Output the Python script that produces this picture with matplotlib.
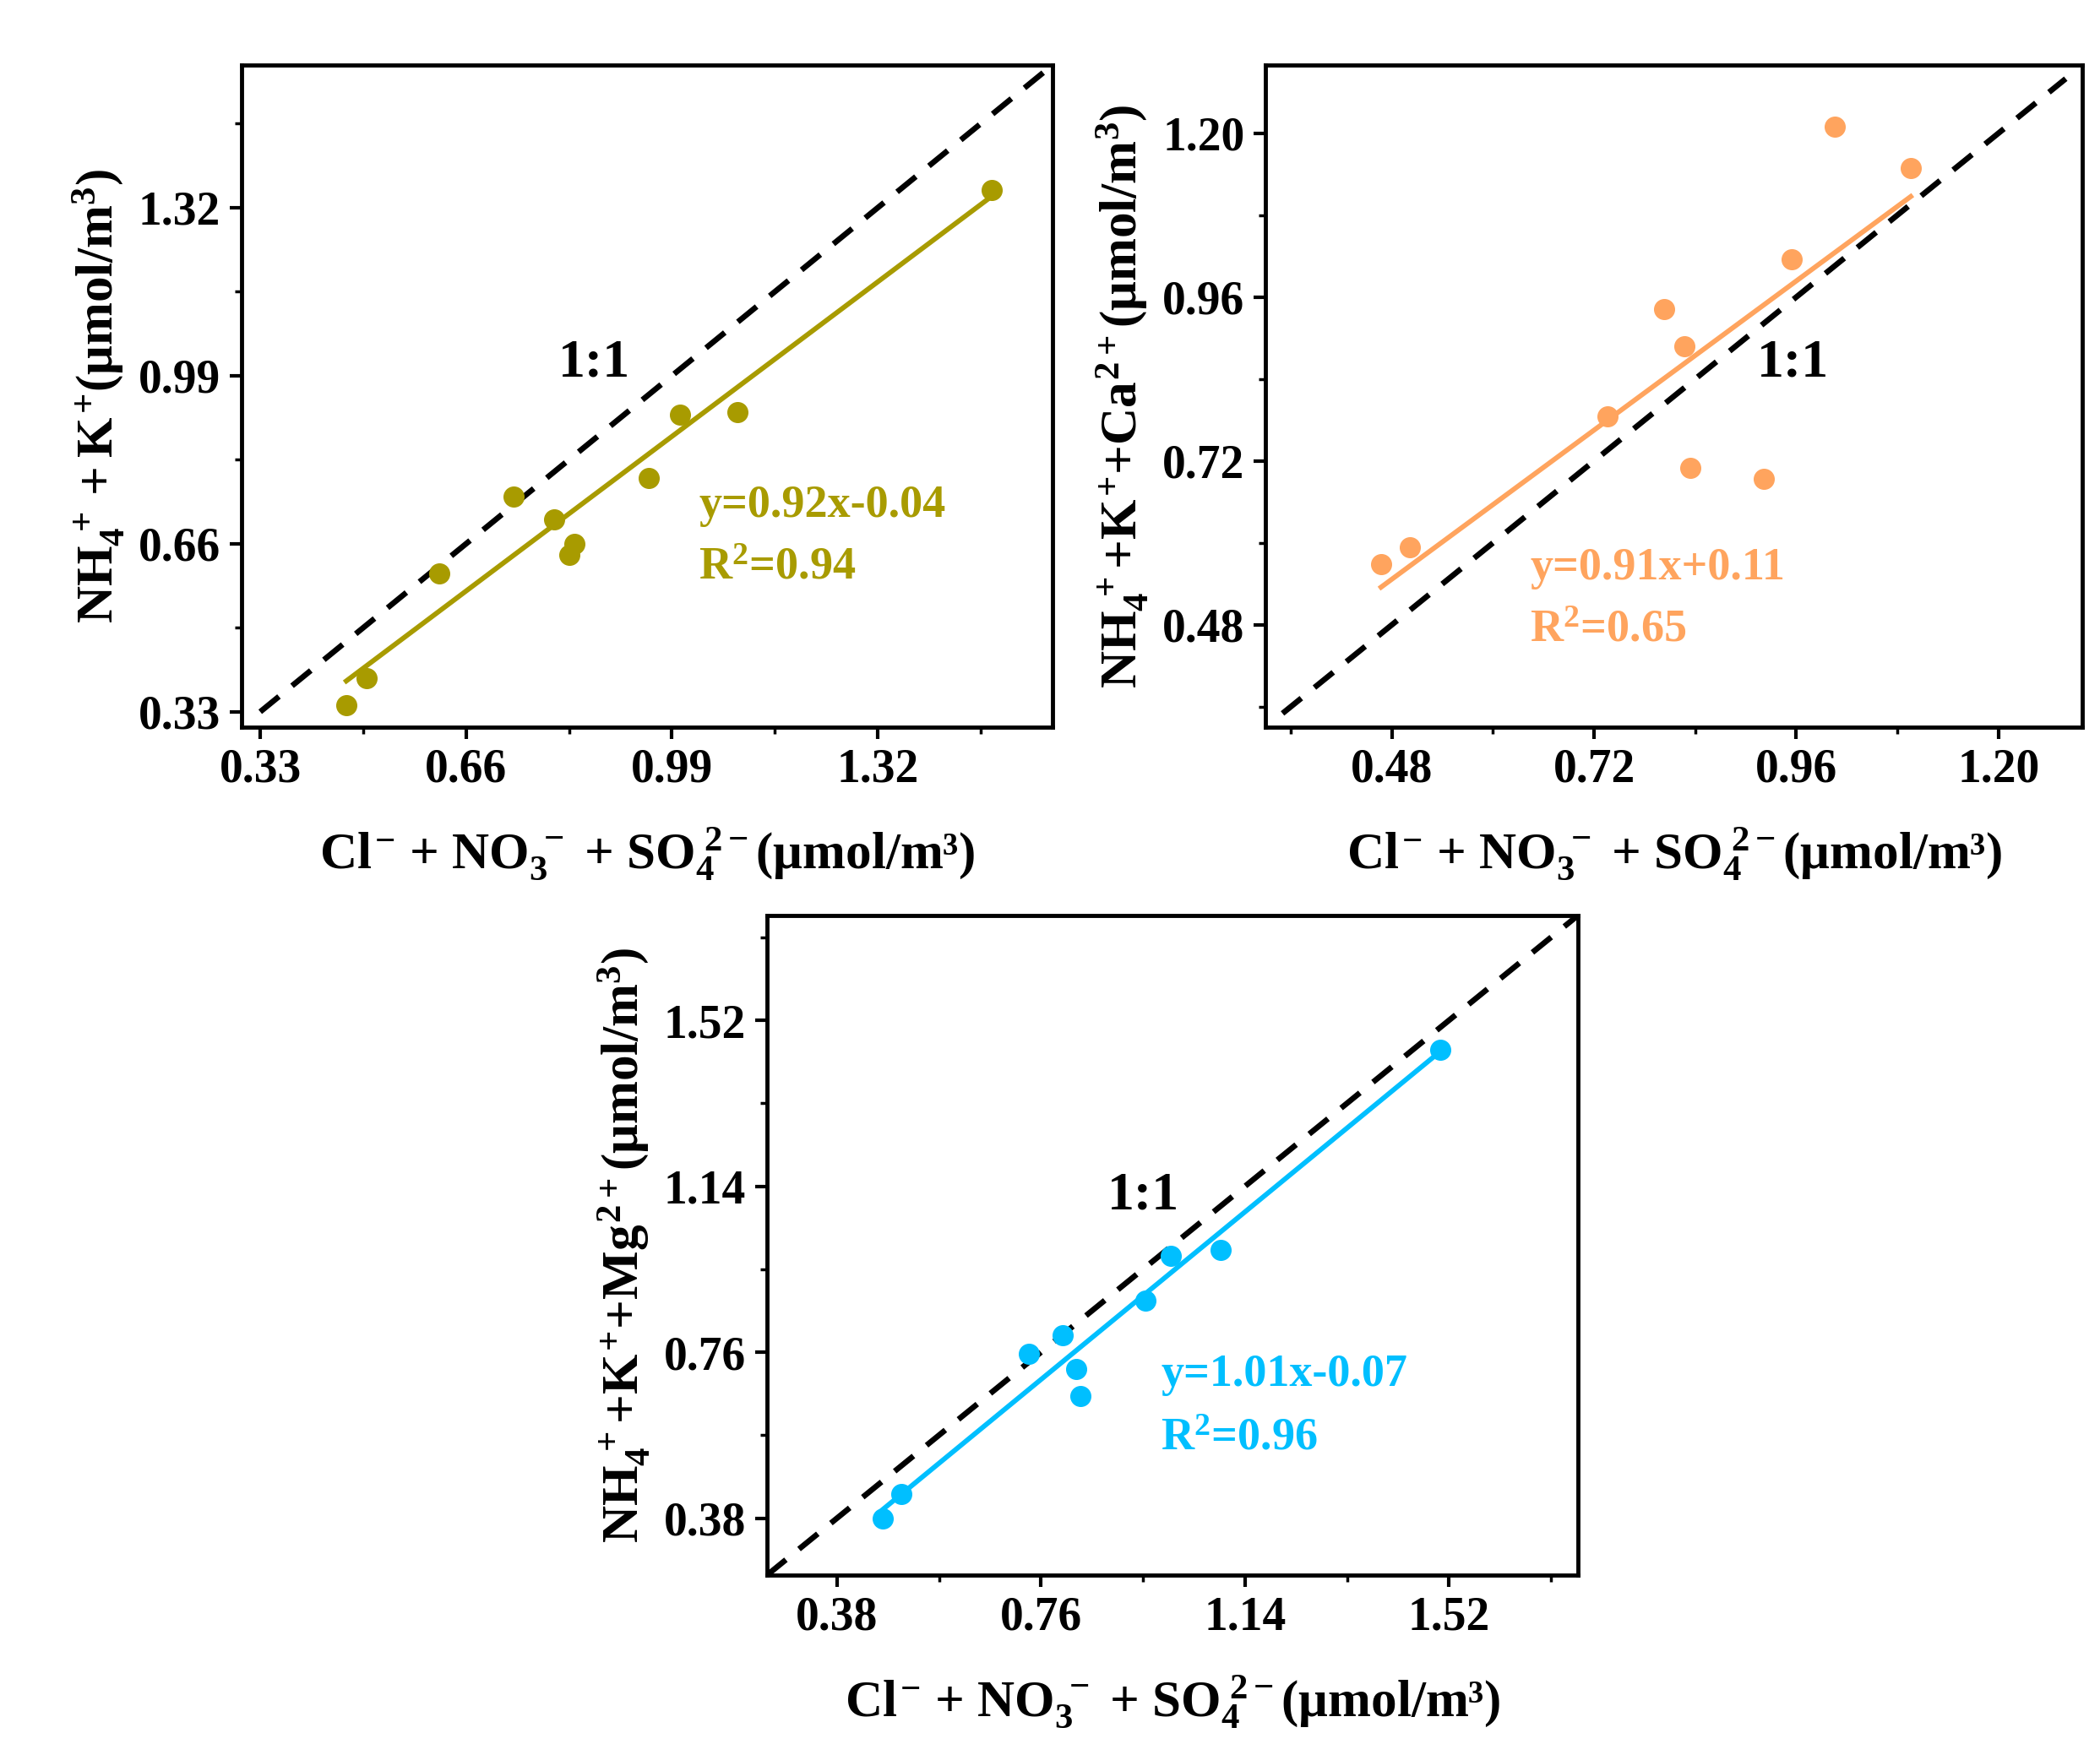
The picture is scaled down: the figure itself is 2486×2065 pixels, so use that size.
import matplotlib
matplotlib.use("Agg")
import matplotlib.pyplot as plt
from matplotlib.ticker import MultipleLocator

plt.rcParams['font.family'] = ['Liberation Serif', 'DejaVu Serif']
plt.rcParams['font.weight'] = 'bold'
plt.rcParams['mathtext.fontset'] = 'custom'
plt.rcParams['mathtext.rm'] = 'Liberation Serif:bold'
plt.rcParams['mathtext.it'] = 'Liberation Serif:bold'
plt.rcParams['mathtext.bf'] = 'Liberation Serif:bold'

# panel 1: NH4+ + K+
x1 = [0.468, 0.501, 0.617, 0.736, 0.801, 0.826, 0.833, 0.953, 1.003, 1.095, 1.502]
y1 = [0.343, 0.396, 0.601, 0.753, 0.707, 0.638, 0.660, 0.789, 0.914, 0.918, 1.354]
# panel 2: NH4+ + K+ + Ca2+
x2 = [0.467, 0.501, 0.736, 0.803, 0.827, 0.834, 0.921, 0.955, 1.006, 1.096]
y2 = [0.569, 0.593, 0.785, 0.943, 0.888, 0.710, 0.694, 1.016, 1.210, 1.149]
# panel 3: NH4+ + K+ + Mg2+
x3 = [0.466, 0.500, 0.737, 0.800, 0.825, 0.833, 0.954, 1.002, 1.095, 1.503]
y3 = [0.380, 0.435, 0.757, 0.799, 0.721, 0.659, 0.878, 0.981, 0.995, 1.453]

fits = [(0.92, -0.04, 0.94), (0.91, 0.11, 0.65), (1.01, -0.07, 0.96)]
colors = ['#A89B00', '#FFA45E', '#00BFFF']
ticks = [[0.33, 0.66, 0.99, 1.32], [0.48, 0.72, 0.96, 1.20], [0.38, 0.76, 1.14, 1.52]]
lims = [(0.30, 1.60), (0.33, 1.30), (0.25, 1.76)]
one_line = [(0.33, 1.585), (0.35, 1.28), (0.25, 1.76)]
ylabels = [r'$NH_4^{\,+} + K^{+}$(μmol/m$^3$)',
           r'$NH_4^{\,+}$+$K^{+}$+$Ca^{2+}$(μmol/m$^3$)',
           r'$NH_4^{\,+}$+$K^{+}$+$Mg^{2+}$(μmol/m$^3$)']
xlabel = r'$Cl^{-}$ + $NO_3^{\,-}$ + $SO_4^{\,2-}$(μmol/m³)'
# text anchors (data coords): 1:1 label, equation
pos_11 = [(0.865, 1.014), (0.956, 0.862), (0.951, 1.117)]
pos_eq = [(1.033, 0.734, 0.612), (0.644, 0.563, 0.472), (0.983, 0.709, 0.562)]

xs = [x1, x2, x3]
ys = [y1, y2, y3]
rects = [[0.1150, 0.5831, 0.3862, 0.3796],
         [0.6027, 0.5831, 0.3890, 0.3796],
         [0.3653, 0.0969, 0.3861, 0.3782]]

fig = plt.figure(figsize=(24.86, 20.65), dpi=100)

for i in range(3):
    ax = fig.add_axes(rects[i])
    c = colors[i]
    a, b, r2 = fits[i]
    lo, hi = one_line[i]
    ax.plot([lo, hi], [lo, hi], color='black', lw=4.8, dashes=(4.3, 3.0), zorder=1)
    xf = [min(xs[i]), max(xs[i])]
    ax.plot(xf, [a * v + b for v in xf], color=c, lw=4.2, zorder=2)
    ax.plot(xs[i], ys[i], 'o', color=c, ms=17, zorder=3)

    ax.set_xlim(lims[i])
    ax.set_ylim(lims[i])
    ax.set_xticks(ticks[i])
    ax.set_yticks(ticks[i])
    step = ticks[i][1] - ticks[i][0]
    ax.xaxis.set_minor_locator(MultipleLocator(step / 2))
    ax.yaxis.set_minor_locator(MultipleLocator(step / 2))
    ax.set_xticklabels(['%.2f' % t for t in ticks[i]])
    ax.set_yticklabels(['%.2f' % t for t in ticks[i]])
    ax.tick_params(which='major', direction='out', length=10, width=3, labelsize=40, pad=8)
    ax.tick_params(which='minor', direction='out', length=6, width=2.5)
    for sp in ax.spines.values():
        sp.set_linewidth(3.5)
    for lab in ax.get_xticklabels() + ax.get_yticklabels():
        lab.set_fontweight('bold')

    ax.set_xlabel(xlabel, fontsize=44, fontweight='bold', labelpad=28)
    ax.set_ylabel(ylabels[i], fontsize=44, fontweight='bold', labelpad=10)

    ax.text(pos_11[i][0], pos_11[i][1], '1:1', fontsize=46, fontweight='bold',
            ha='center', va='center')
    ex, ey1, ey2 = pos_eq[i]
    sign = '+' if b >= 0 else '-'
    ax.text(ex, ey1, 'y=%.2fx%s%.2f' % (a, sign, abs(b)), fontsize=39,
            fontweight='bold', color=c, ha='left', va='center')
    ax.text(ex, ey2, r'R$^2$=%.2f' % r2, fontsize=39, fontweight='bold',
            color=c, ha='left', va='center')

fig.savefig('out.png', dpi=100)
